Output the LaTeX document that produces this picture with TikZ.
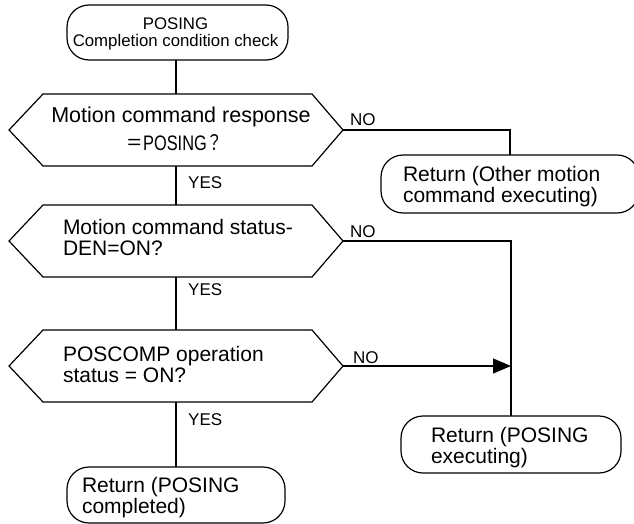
\documentclass[tikz,border=0pt]{standalone}
\usepackage{fontspec}
\usepackage{graphicx}
\setmainfont{Liberation Sans}
\newfontfamily\cjkfont{Noto Sans CJK JP}
\usetikzlibrary{arrows.meta}
\newcommand\hexdraw[1]{\draw[ln] (#1.west) -- ([xshift=34pt]#1.north west) -- ([xshift=-31pt]#1.north east) -- (#1.east) -- ([xshift=-31pt]#1.south east) -- ([xshift=34pt]#1.south west) -- cycle;}
\begin{document}
\begin{tikzpicture}[x=1pt,y=-1pt,
  ln/.style={line width=1.2pt},
  term/.style={draw, line width=1.2pt, rounded corners=22pt, inner sep=0pt, outer sep=0pt},
  hexcore/.style={inner sep=0pt, outer sep=0pt, minimum width=334pt, minimum height=72pt},
  txt/.style={inner sep=0pt, outer sep=0pt, anchor=base west, align=left, font=\fontsize{21}{20.5}\selectfont},
  lbl/.style={inner sep=0pt, anchor=base west, font=\fontsize{17}{17}\selectfont},
]
\useasboundingbox (0,0) rectangle (634,524);

% start terminal
\node[term, minimum width=221pt, minimum height=55pt] (start) at (177.5,32.5) {};
\node[inner sep=0pt, anchor=base, align=center, font=\fontsize{16.8}{17}\selectfont] (startt) at (175.5,47) {POSING\\Completion condition check};

% decisions
\node[hexcore] (d1) at (176,130) {};
\hexdraw{d1}
\node[txt, anchor=base, font=\fontsize{21.5}{21}\selectfont] (d1a) at (181,122) {Motion command response};
\node[txt, anchor=base] (d1b) at (175,150) {\scalebox{0.78}[1]{{\cjkfont ＝}POSING{\cjkfont ？}}};

\node[hexcore] (d2) at (176,241) {};
\hexdraw{d2}
\node[txt] (d2t) at (63,255) {Motion command status-\\DEN=ON?};

\node[hexcore] (d3) at (176,366) {};
\hexdraw{d3}
\node[txt] (d3t) at (63,382) {POSCOMP operation\\status = ON?};

% return terminals
\node[term, minimum width=258pt, minimum height=58pt] (r1) at (510,184) {};
\node[txt] (r1t) at (403,202) {Return (Other motion\\command executing)};

\node[term, minimum width=220pt, minimum height=57pt] (r2) at (511,444.5) {};
\node[txt] (r2t) at (431,463) {Return (POSING\\executing)};

\node[term, minimum width=218pt, minimum height=56pt] (r3) at (176,495) {};
\node[txt] (r3t) at (82,513) {Return (POSING\\completed)};

\coordinate (j) at (r2.north |- d3.east);

% connectors
\draw[ln] (d1.north |- start.south) -- (d1.north);
\draw[ln] (d1.south) -- (d2.north);
\draw[ln] (d2.south) -- (d3.north);
\draw[ln] (d3.south) -- (r3.north);
\draw[ln] (d1.east) -| (r1.north);
\draw[ln] (d2.east) -| (r2.north);
\draw[ln, -{Triangle[length=18pt, width=15pt]}] (d3.east) -- (j);

% labels
\node[lbl] (no1) at (350,125) {NO};
\node[lbl] (no2) at (350,237) {NO};
\node[lbl] (no3) at (353,363) {NO};
\node[lbl] (yes1) at (188,188) {YES};
\node[lbl] (yes2) at (188,295) {YES};
\node[lbl] (yes3) at (188,425) {YES};
\end{tikzpicture}
\end{document}
